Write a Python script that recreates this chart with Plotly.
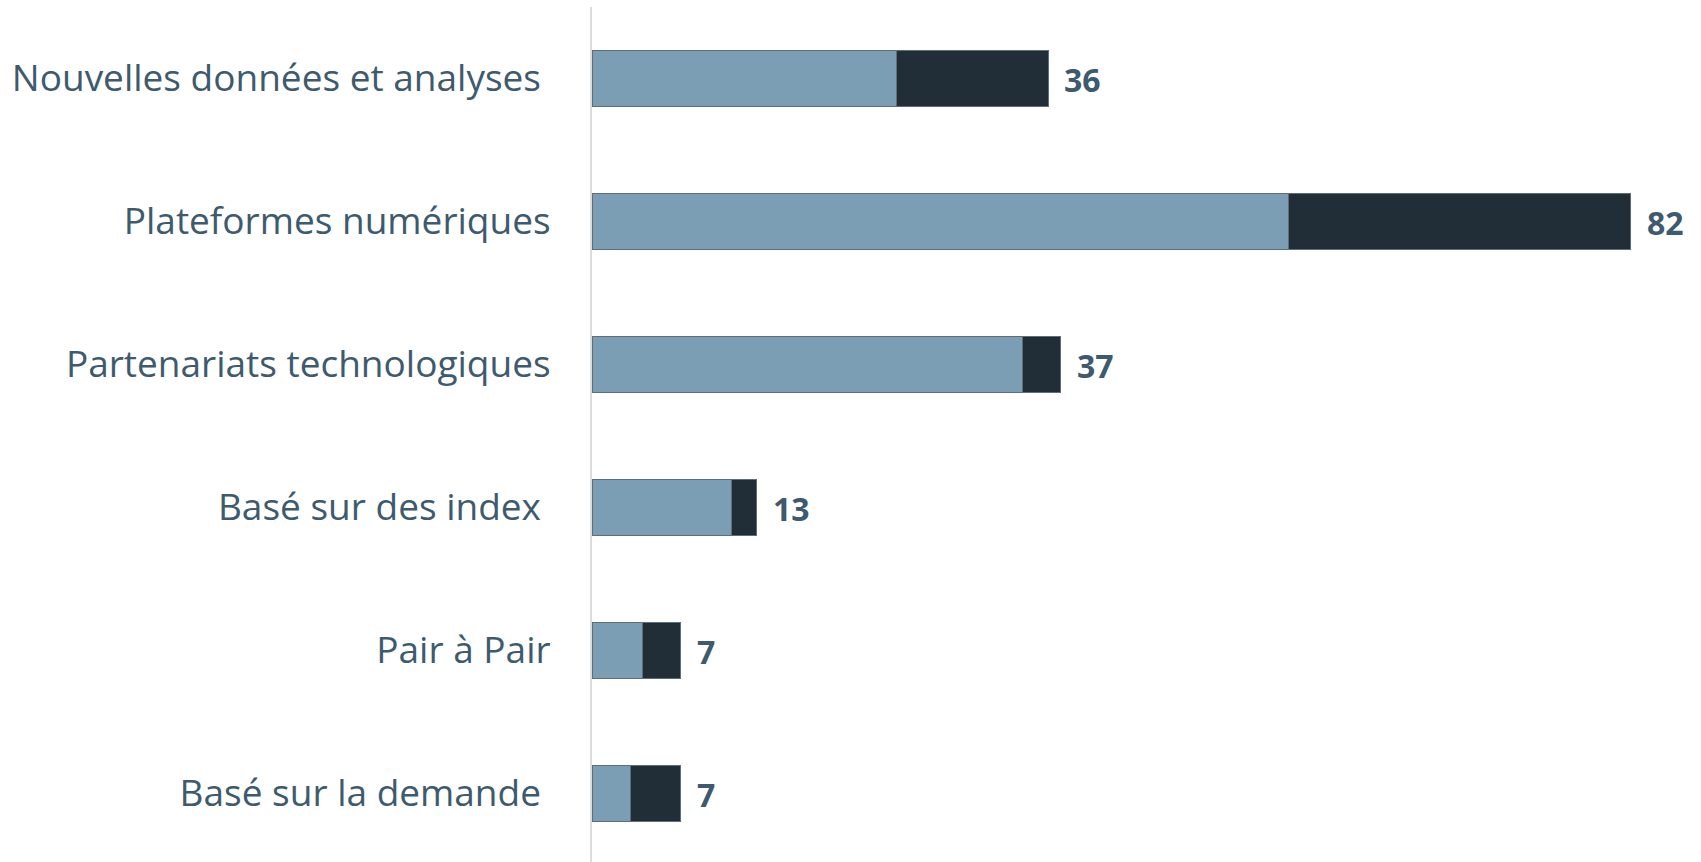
import plotly.graph_objects as go

categories = [
    "Nouvelles données et analyses\u00a0",
    "Plateformes numériques",
    "Partenariats technologiques",
    "Basé sur des index\u00a0",
    "Pair à Pair",
    "Basé sur la demande\u00a0",
]
series_light = [24, 55, 34, 11, 4, 3]
series_dark = [12, 27, 3, 2, 3, 4]
totals = [a + b for a, b in zip(series_light, series_dark)]

LIGHT = "#7C9EB4"
DARK = "#212D37"
TEXT = "#3E5A6E"
EDGE = "#5E6E79"

fig = go.Figure()
fig.add_trace(go.Bar(y=categories, x=series_light, orientation="h",
                     marker=dict(color=LIGHT, line=dict(color=EDGE, width=1)),
                     showlegend=False, hoverinfo="skip"))
fig.add_trace(go.Bar(y=categories, x=series_dark, orientation="h",
                     marker=dict(color=DARK, line=dict(color=EDGE, width=1)),
                     showlegend=False, hoverinfo="skip"))

for c, t in zip(categories, totals):
    fig.add_annotation(x=t, y=c, text=str(t), showarrow=False, xanchor="left",
                       xshift=14, yshift=-1,
                       font=dict(family="Open Sans", size=32, color=TEXT, weight="bold"))

fig.update_layout(
    barmode="stack",
    bargap=0.603,
    width=1701, height=862,
    margin=dict(l=592, r=0, t=7, b=0),
    paper_bgcolor="white", plot_bgcolor="white",
    font=dict(family="Open Sans", color=TEXT),
    xaxis=dict(range=[0, 87.53], visible=False, showgrid=False, zeroline=False),
    yaxis=dict(categoryorder="array", categoryarray=categories,
               range=[5.479, -0.5], showgrid=False, zeroline=False,
               showline=True, linecolor="#DDDDDD", linewidth=2,
               ticks="outside", ticklen=0, ticklabelstandoff=32,
               tickfont=dict(family="Open Sans", size=37, color=TEXT)),
)

fig.write_html("out.html")
